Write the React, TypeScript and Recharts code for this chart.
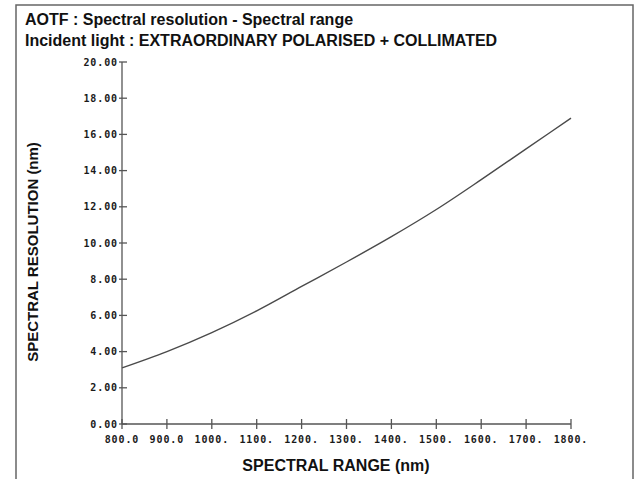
import { LineChart, Line, XAxis, YAxis } from 'recharts';

const wavelengths = [800, 900, 1000, 1100, 1200, 1300, 1400, 1500, 1600, 1700, 1800];
const resolution = [3.1, 4.0, 5.05, 6.25, 7.6, 8.95, 10.35, 11.85, 13.5, 15.2, 16.9];

const xTicks = [800, 900, 1000, 1100, 1200, 1300, 1400, 1500, 1600, 1700, 1800];
const yTicks = [0, 2, 4, 6, 8, 10, 12, 14, 16, 18, 20];

const data = wavelengths.map((w, i) => ({ w, r: resolution[i] }));

const tickFont = {
  fontFamily: '"DejaVu Sans Mono", monospace',
  fontWeight: 700,
  fontSize: 10,
  letterSpacing: 0.9,
  fill: '#1a1a1a',
};

const axisColor = '#555';

function fmtX(v: number) {
  return v < 1000 ? v.toFixed(1) : `${v}.`;
}

function YTick(props: any) {
  const { x, y, payload } = props;
  return (
    <g>
      <line x1={x - 3} x2={x + 5} y1={y} y2={y} stroke={axisColor} strokeWidth={1.3} />
      <text x={x - 4} y={y} dy={3.5} textAnchor="end" {...tickFont}>
        {payload.value.toFixed(2)}
      </text>
    </g>
  );
}

function XTick(props: any) {
  const { x, y, payload } = props;
  return (
    <g>
      <line x1={x} x2={x} y1={y - 5} y2={y + 5} stroke={axisColor} strokeWidth={1.3} />
      <text x={x} y={y + 19} textAnchor="middle" {...tickFont}>
        {fmtX(payload.value)}
      </text>
    </g>
  );
}

const labelFont = {
  fontFamily: '"Liberation Sans", Arial, sans-serif',
  fontWeight: 700,
  fill: '#111',
};

export default function App() {
  return (
    <div style={{ position: 'absolute', left: 0, top: 0, width: 636, height: 479, background: '#fff' }}>
      <LineChart
        width={636}
        height={479}
        data={data}
        margin={{ top: 62, right: 65, bottom: 0, left: 0 }}
      >
        <XAxis
          dataKey="w"
          type="number"
          domain={[800, 1800]}
          ticks={xTicks}
          interval={0}
          height={55}
          tickSize={0}
          tickMargin={0}
          tickLine={false}
          tick={<XTick />}
          stroke={axisColor}
          strokeWidth={1.3}
        />
        <YAxis
          type="number"
          domain={[0, 20]}
          ticks={yTicks}
          interval={0}
          width={122}
          tickSize={0}
          tickMargin={0}
          tickLine={false}
          tick={<YTick />}
          stroke={axisColor}
          strokeWidth={1.3}
        />
        <Line
          type="monotone"
          dataKey="r"
          stroke="#4a4a4a"
          strokeWidth={1.4}
          dot={false}
          isAnimationActive={false}
        />
      </LineChart>
      <svg
        width={636}
        height={479}
        style={{ position: 'absolute', left: 0, top: 0, pointerEvents: 'none' }}
      >
        <polyline points="16,485 16,5 633,5 633,485" fill="none" stroke="#666" strokeWidth={1.5} />
        <text x={25} y={25} fontSize={16} {...labelFont}>
          AOTF : Spectral resolution - Spectral range
        </text>
        <text x={25} y={46} fontSize={16} {...labelFont}>
          Incident light : EXTRAORDINARY POLARISED + COLLIMATED
        </text>
        <text x={336} y={471} fontSize={16} textAnchor="middle" {...labelFont}>
          SPECTRAL RANGE (nm)
        </text>
        <text
          x={0}
          y={0}
          fontSize={15}
          textAnchor="middle"
          transform="translate(38,252) rotate(-90)"
          {...labelFont}
        >
          SPECTRAL RESOLUTION (nm)
        </text>
      </svg>
    </div>
  );
}
